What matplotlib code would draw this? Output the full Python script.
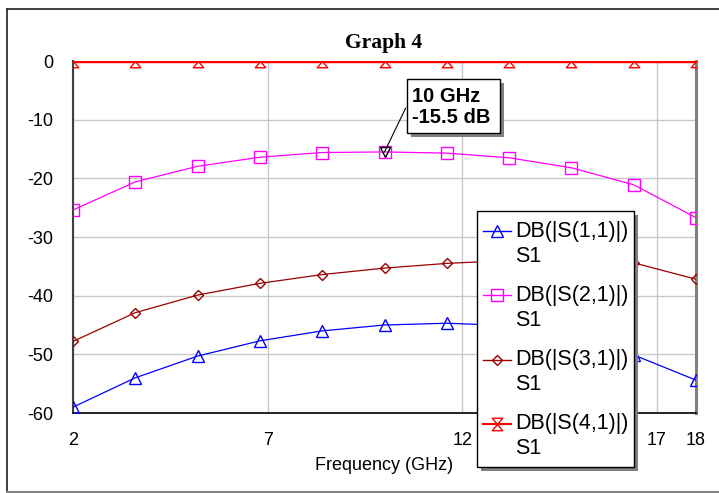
import numpy as np
import matplotlib.pyplot as plt
from matplotlib.lines import Line2D
from matplotlib.patches import Rectangle
from matplotlib.path import Path

plt.rcParams['font.family'] = ['Liberation Sans', 'DejaVu Sans']
plt.rcParams['axes.unicode_minus'] = False

# data
freq = [2, 3.6, 5.2, 6.8, 8.4, 10, 11.6, 13.2, 14.8, 16.4, 18]
s11 = [-59.0, -54.0, -50.3, -47.7, -46.0, -45.0, -44.7, -45.1, -46.9, -50.1, -54.4]
s21 = [-25.4, -20.6, -17.95, -16.4, -15.6, -15.5, -15.7, -16.5, -18.2, -21.1, -26.7]
s31 = [-47.8, -42.9, -39.9, -37.9, -36.4, -35.3, -34.5, -34.0, -33.9, -34.4, -37.2]
s41 = [0.0, 0.0, 0.0, 0.0, 0.0, 0.0, 0.0, 0.0, 0.0, 0.0, 0.0]
labels = ['DB(|S(1,1)|)', 'DB(|S(2,1)|)', 'DB(|S(3,1)|)', 'DB(|S(4,1)|)']
xticks = [2, 7, 12, 17, 18]
yticks = [0, -10, -20, -30, -40, -50, -60]
marker_freq = 10
marker_db = -15.5

W, H = 719, 493
def px(x, y):
    return (x / W, 1 - y / H)

hourglass = Path([(-1, 1.2), (1, 1.2), (-1, -1.2), (1, -1.2), (-1, 1.2)],
                 [Path.MOVETO, Path.LINETO, Path.LINETO, Path.LINETO, Path.CLOSEPOLY])

styles = [
    dict(color='#0000ff', marker='^', ms=8),
    dict(color='#ff00ff', marker='s', ms=8),
    dict(color='#990000', marker='D', ms=5.5),
    dict(color='#ff0000', marker=hourglass, ms=9),
]
series = [s11, s21, s31, s41]

fig = plt.figure(figsize=(W / 100, H / 100), dpi=100)
x0, y0 = px(73, 413)
x1, y1 = px(696, 61)
ax = fig.add_axes([x0, y0, x1 - x0, y1 - y0])

for vals, st in zip(series, styles):
    lw = 2.5 if st['color'] == '#ff0000' else 0.9
    ax.plot(freq, vals, color=st['color'], lw=lw, marker=st['marker'], ms=st['ms'],
            mfc='none', mec=st['color'], mew=1, zorder=3)

ax.plot([marker_freq], [marker_db], marker='v', ms=7.5, mfc='none', mec='black', mew=1, zorder=5)

ax.set_xlim(2, 18)
ax.set_ylim(-60, 0)
ax.set_xticks(xticks)
ax.set_yticks(yticks)
ax.tick_params(length=0, labelsize=13, pad=14)
ax.grid(True, color='#c8c8c8', lw=1)
ax.set_axisbelow(True)
ax.spines['top'].set_visible(False)
ax.spines['left'].set_color('#404040')
ax.spines['left'].set_linewidth(1.5)
ax.spines['bottom'].set_color('black')
ax.spines['bottom'].set_linewidth(1.2)
ax.spines['right'].set_color('#808080')
ax.spines['right'].set_linewidth(2.2)
ax.set_xlabel('Frequency (GHz)', fontsize=13)
ax.xaxis.set_label_coords(0.5, -0.125)

# title
tx, ty = px(384, 43)
fig.text(tx, ty, 'Graph 4', family='Liberation Serif', weight='bold', fontsize=15.5,
         ha='center', va='center')

# outer frame
fig.add_artist(Line2D([7 / W, 7 / W], [px(0, 9)[1], 0], color='#303030', lw=1.3))
fig.add_artist(Line2D([7 / W, 1.01], [px(0, 9)[1], px(0, 9)[1]], color='#303030', lw=1.3))
fig.add_artist(Line2D([7 / W, 1.01], [px(0, 491.5)[1], px(0, 491.5)[1]], color='#808080', lw=1.5))

# marker readout box
ax.annotate('', xy=(marker_freq, marker_db), xycoords='data',
            xytext=px(405.7, 108), textcoords='figure fraction',
            arrowprops=dict(arrowstyle='-', color='black', lw=0.8, shrinkA=0, shrinkB=0))
def box(xa, ya, xb, yb, z):
    fx, fy = px(xa + 4, yb + 4)
    fig.add_artist(Rectangle((fx, fy), (xb - xa) / W, (yb - ya) / H, transform=fig.transFigure,
                             facecolor='#808080', edgecolor='none', zorder=z))
    fx, fy = px(xa, yb)
    fig.add_artist(Rectangle((fx, fy), (xb - xa) / W, (yb - ya) / H, transform=fig.transFigure,
                             facecolor='white', edgecolor='black', lw=1, zorder=z + 0.1))
box(406.7, 79.3, 500, 133.3, 5)
bx, by = px(412.5, 107)
fig.text(bx, by, '%d GHz\n%.1f dB' % (marker_freq, marker_db), weight='bold', fontsize=14.5,
         ha='left', va='center', linespacing=1.12, zorder=6)

# legend
box(477, 211, 634, 467, 7)
for i, (lab, st) in enumerate(zip(labels, styles)):
    yy = 231 + i * 64.3
    lx = [482.5 / W, 496.5 / W, 510.5 / W]
    ly = [px(0, yy)[1]] * 3
    fig.add_artist(Line2D(lx, ly, color=st['color'], lw=1 if i < 3 else 1.5, marker=st['marker'],
                          ms=st['ms'], mfc='none', mec=st['color'], mew=1, markevery=[1], zorder=8))
    fig.text(515 / W, px(0, yy)[1], lab, fontsize=15.5, ha='left', va='center', zorder=8)
    fig.text(515 / W, px(0, yy + 25)[1], 'S1', fontsize=15.5, ha='left', va='center', zorder=8)

fig.savefig('out.png', dpi=100)
